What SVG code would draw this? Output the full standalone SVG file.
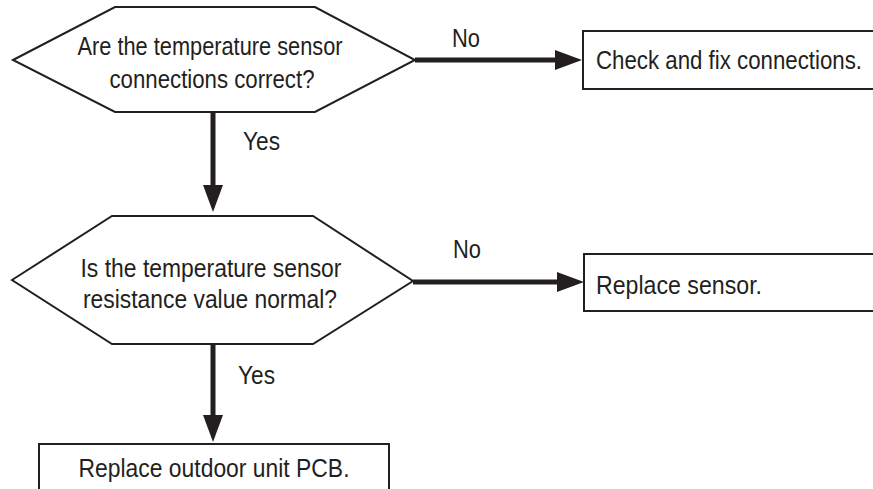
<svg xmlns="http://www.w3.org/2000/svg" width="873" height="489" viewBox="0 0 873 489">
<style>
  .shape { fill: #ffffff; stroke: #231f20; stroke-width: 2; }
  .conn { fill: none; stroke: #231f20; stroke-width: 5; }
  text { font-family: "Liberation Sans", Arial, sans-serif; font-size: 25px; fill: #231f20; }
  .mid { text-anchor: middle; }
</style>
<defs>
  <marker id="arrow" markerUnits="userSpaceOnUse" markerWidth="27" markerHeight="20" refX="17" refY="10" orient="auto">
    <path d="M0,0 L27,10 L0,20 z" fill="#231f20"/>
  </marker>
</defs>
<rect width="873" height="489" fill="#ffffff"/>
<g id="connectors">
  <path class="conn" d="M415,60 H572" marker-end="url(#arrow)"/>
  <path class="conn" d="M213,112 V202" marker-end="url(#arrow)"/>
  <path class="conn" d="M413,282 H574" marker-end="url(#arrow)"/>
  <path class="conn" d="M213,344 V432" marker-end="url(#arrow)"/>
  <text x="452" y="47" textLength="28" lengthAdjust="spacingAndGlyphs">No</text>
  <text x="243" y="150" textLength="37" lengthAdjust="spacingAndGlyphs">Yes</text>
  <text x="453" y="258" textLength="28" lengthAdjust="spacingAndGlyphs">No</text>
  <text x="238" y="384" textLength="37" lengthAdjust="spacingAndGlyphs">Yes</text>
</g>
<g id="decision1">
  <polygon class="shape" points="13,60 115,7 315,7 415,60 315,112 115,112"/>
  <text class="mid" x="210" y="55" textLength="265" lengthAdjust="spacingAndGlyphs">Are the temperature sensor</text>
  <text class="mid" x="212" y="88" textLength="205" lengthAdjust="spacingAndGlyphs">connections correct?</text>
</g>
<g id="fix">
  <rect class="shape" x="583" y="31" width="300" height="58"/>
  <text x="596" y="69" textLength="266" lengthAdjust="spacingAndGlyphs">Check and fix connections.</text>
</g>
<g id="decision2">
  <polygon class="shape" points="12,280 112,216 313,216 413,281 313,344 112,344"/>
  <text class="mid" x="211" y="277" textLength="261" lengthAdjust="spacingAndGlyphs">Is the temperature sensor</text>
  <text class="mid" x="210" y="308" textLength="254" lengthAdjust="spacingAndGlyphs">resistance value normal?</text>
</g>
<g id="replaceSensor">
  <rect class="shape" x="584" y="254" width="300" height="57"/>
  <text x="596" y="294" textLength="166" lengthAdjust="spacingAndGlyphs">Replace sensor.</text>
</g>
<g id="replacePCB">
  <rect class="shape" x="39" y="444" width="350" height="60"/>
  <text class="mid" x="214" y="477" textLength="271" lengthAdjust="spacingAndGlyphs">Replace outdoor unit PCB.</text>
</g>
</svg>
